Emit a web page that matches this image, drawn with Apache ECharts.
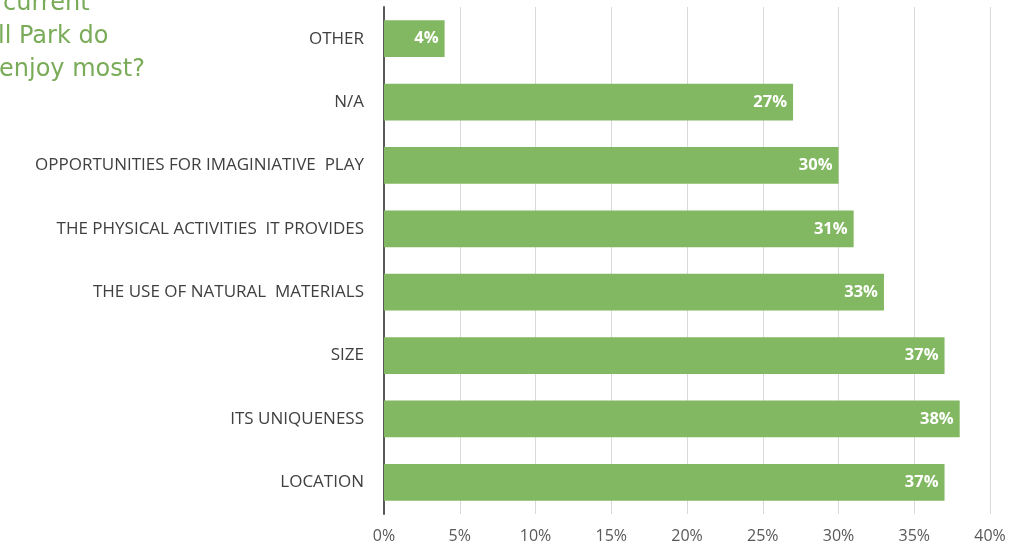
<!DOCTYPE html>
<html><head><meta charset="utf-8">
<script src="https://cdn.jsdelivr.net/npm/echarts@6/dist/echarts.min.js"></script>
<style>html,body{margin:0;padding:0;background:#fff}#c{width:1018px;height:555px}</style>
</head><body><div id="c"></div>
<script>
const categories = ['LOCATION','ITS UNIQUENESS','SIZE','THE USE OF NATURAL  MATERIALS','THE PHYSICAL ACTIVITIES  IT PROVIDES','OPPORTUNITIES FOR IMAGINIATIVE  PLAY','N/A','OTHER'];
const values = [37,38,37,33,31,30,27,4];
const titleLines = ['current','ll Park do','enjoy most?'];

const chart = echarts.init(document.getElementById('c'));
chart.setOption({
  animation:false,
  grid:{left:384,right:28,top:7,bottom:41,containLabel:false},
  xAxis:{type:'value',min:0,max:40,interval:5,
    axisLabel:{formatter:'{value}%',color:'#595959',fontSize:16,fontFamily:'Open Sans',margin:14},
    splitLine:{show:true,lineStyle:{color:'#d9d9d9',width:1}},
    axisLine:{show:false},axisTick:{show:false}},
  yAxis:{type:'category',data:categories,
    axisLine:{show:true,lineStyle:{color:'#595959',width:2}},
    axisTick:{show:false},
    axisLabel:{color:'#404040',fontSize:17,fontFamily:'Open Sans',margin:20}},
  series:[{type:'bar',data:values,barWidth:'58%',
    itemStyle:{color:'#83b862'},
    label:{show:true,position:'insideRight',formatter:'{c}%',color:'#fff',fontWeight:'bold',fontSize:16.5,fontFamily:'Open Sans',offset:[-1,0]}}],
  graphic: titleLines.map((t,i)=>({type:'text',left:[3,-2,-1][i],top:[-8,25,58][i],
    style:{text:t,fill:'#7aab58',font:'24px "DejaVu Sans"'}}))
});
</script></body></html>
